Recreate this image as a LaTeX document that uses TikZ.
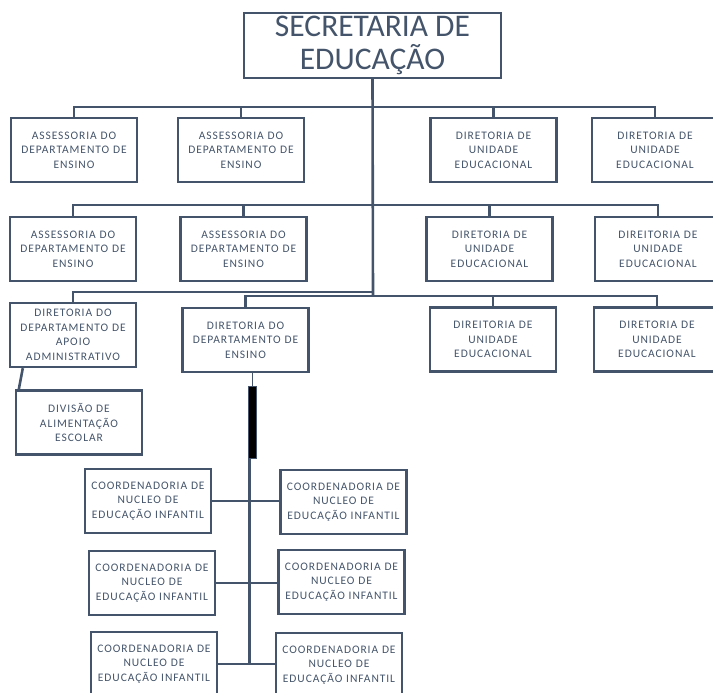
\documentclass[tikz,border=0pt]{standalone}
\usepackage{fontspec}
\setmainfont{Carlito}
\newfontfamily\caixafonte[LetterSpace=8]{Carlito}
\usetikzlibrary{positioning}

\definecolor{azulcinza}{HTML}{44546A}
\def \largCaixa {122pt}
\def \altCaixa {64pt}

\tikzset{
  caixa/.style={draw=azulcinza, line width=2.4pt, text=azulcinza, align=center,
    text width=\largCaixa, minimum height=\altCaixa, inner sep=2pt,
    font=\caixafonte\fontsize{11.5}{14.5}\selectfont},
  ligacao/.style={draw=azulcinza, line width=2.6pt},
}

\begin{document}
\begin{tikzpicture}[x=1pt,y=-1pt]
  \useasboundingbox (0,0) rectangle (713,693);

  % secretaria
  \node[draw=azulcinza, line width=2.4pt, text=azulcinza, align=center,
    minimum width=257pt, minimum height=65pt, inner sep=0pt,
    font=\fontsize{31.5}{33}\selectfont] (sec) at (372.5,45.5) {SECRETARIA DE\\EDUCAÇÃO};

  % primeira linha
  \node[caixa] (a1) at (74,150) {ASSESSORIA DO\\DEPARTAMENTO DE\\ENSINO};
  \node[caixa] (a2) at (241,150) {ASSESSORIA DO\\DEPARTAMENTO DE\\ENSINO};
  \node[caixa] (d1) at (493.5,150) {DIRETORIA DE\\UNIDADE\\EDUCACIONAL};
  \node[caixa] (d2) at (655,150) {DIRETORIA DE\\UNIDADE\\EDUCACIONAL};

  % segunda linha
  \node[caixa] (a3) at (73,249) {ASSESSORIA DO\\DEPARTAMENTO DE\\ENSINO};
  \node[caixa] (a4) at (243.5,249) {ASSESSORIA DO\\DEPARTAMENTO DE\\ENSINO};
  \node[caixa] (d3) at (489.5,249) {DIRETORIA DE\\UNIDADE\\EDUCACIONAL};
  \node[caixa] (d4) at (658,249) {DIREITORIA DE\\UNIDADE\\EDUCACIONAL};

  % terceira linha
  \node[caixa] (apoio) at (73,335) {DIRETORIA DO\\DEPARTAMENTO DE\\APOIO\\ADMINISTRATIVO};
  \node[caixa] (ensino) at (245.5,340) {DIRETORIA DO\\DEPARTAMENTO DE\\ENSINO};
  \node[caixa] (d5) at (493,339.5) {DIREITORIA DE\\UNIDADE\\EDUCACIONAL};
  \node[caixa] (d6) at (657,339.5) {DIRETORIA DE\\UNIDADE\\EDUCACIONAL};
  \node[caixa] (divisao) at (79,422.5) {DIVISÃO DE\\ALIMENTAÇÃO\\ESCOLAR};

  % coordenadorias
  \node[caixa] (c1) at (148,501) {COORDENADORIA DE\\NUCLEO DE\\EDUCAÇÃO INFANTIL};
  \node[caixa] (c2) at (343.5,502) {COORDENADORIA DE\\NUCLEO DE\\EDUCAÇÃO INFANTIL};
  \node[caixa] (c3) at (152,583) {COORDENADORIA DE\\NUCLEO DE\\EDUCAÇÃO INFANTIL};
  \node[caixa] (c4) at (341.5,582) {COORDENADORIA DE\\NUCLEO DE\\EDUCAÇÃO INFANTIL};
  \node[caixa] (c5) at (154,664) {COORDENADORIA DE\\NUCLEO DE\\EDUCAÇÃO INFANTIL};
  \node[caixa] (c6) at (339,665) {COORDENADORIA DE\\NUCLEO DE\\EDUCAÇÃO INFANTIL};

  \node[draw=azulcinza, line width=1.5pt, fill=black, minimum width=8pt,
    minimum height=72pt, inner sep=0pt] (barra) at (252.5,422.5) {};

  % ligacoes
  \coordinate (bar1) at (373,107);
  \coordinate (bar2) at (373,205);
  \coordinate (bar3) at (373,292);
  \coordinate (bar4) at (373,296);
  \draw[ligacao] (sec.south) -- (bar4);
  \draw[ligacao] (a1.north) |- (bar1) -| (d2.north);
  \draw[ligacao] (a2.north) |- (bar1) -| (d1.north);
  \draw[ligacao] (a3.north) |- (bar2) -| (d4.north);
  \draw[ligacao] (a4.north) |- (bar2) -| (d3.north);
  \draw[ligacao] (apoio.north) |- (bar3);
  \draw[ligacao] (ensino.north) |- (bar4) -| (d6.north);
  \draw[ligacao] (d5.north) -- (d5.north |- bar4);
  \draw[ligacao] ([xshift=14pt]apoio.south west) -- ([xshift=4pt]divisao.north west);
  \draw[ligacao, line width=1.8pt] (ensino.south -| barra) -- (barra.north);
  \draw[ligacao] ([xshift=-3pt]barra.south) -- ([xshift=-3pt]barra.south |- c5.east);
  \draw[ligacao] (c1.east) -- (c1.east -| c2.west);
  \draw[ligacao] (c3.east) -- (c3.east -| c4.west);
  \draw[ligacao] (c5.east) -- (c5.east -| c6.west);
\end{tikzpicture}
\end{document}
